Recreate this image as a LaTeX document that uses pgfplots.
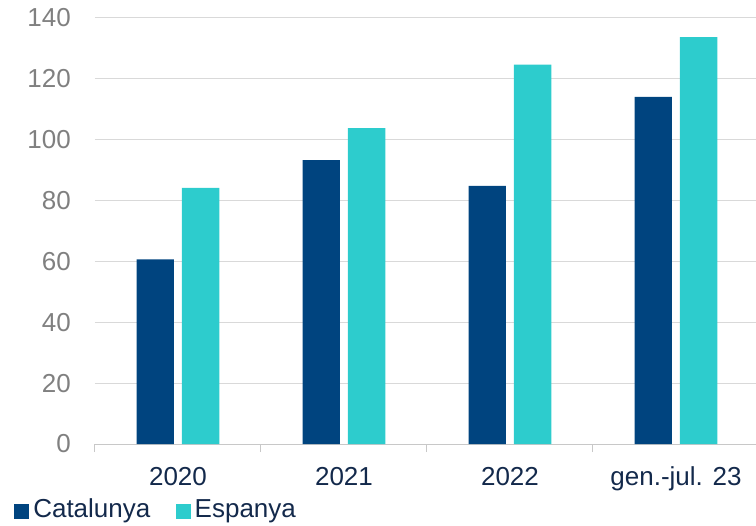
\documentclass[border=0pt]{standalone}
\usepackage{pgfplots}
\pgfplotsset{compat=1.18}
\usepackage{fontspec}
\setmainfont{Liberation Sans}
\definecolor{cat}{HTML}{00447F}
\definecolor{esp}{HTML}{2DCCCD}
\definecolor{navy}{HTML}{13294B}
\definecolor{ygray}{HTML}{808080}
\definecolor{gridc}{HTML}{D9D9D9}
\definecolor{axc}{HTML}{C8C8C8}
\newcommand{\ff}{\fontsize{19.5}{23}\selectfont}
\begin{document}
\begin{tikzpicture}
\useasboundingbox (-71.25pt,-60.75pt) rectangle (495.75pt,333pt);
\begin{axis}[
  at={(0pt,0pt)}, anchor=south west,
  scale only axis, width=495.75pt, height=319.5pt,
  xmin=-0.5, xmax=3.482, ymin=0, ymax=140,
  ybar=6pt, bar width=28.1pt,
  /pgf/number format/assume math mode=true,
  axis x line*=bottom, axis y line*=left,
  y axis line style={draw=none},
  x axis line style={draw=axc, line width=0.75pt},
  ymajorgrids, grid style={draw=gridc, line width=0.75pt},
  ytick={0,20,...,140},
  xtick={0,1,2,3}, xticklabels={2020,2021,2022,{gen.-jul. 23}},
  minor xtick={-0.5,0.5,1.5,2.5},
  major tick length=0pt, minor tick length=6pt, tick align=outside,
  minor tick style={draw=axc, line width=0.75pt},
  xticklabel style={font=\ff, text=navy, anchor=north, inner sep=0pt, text height=14pt, text depth=4pt, yshift=-17pt},
  yticklabel style={font=\ff, text=ygray, anchor=east, inner sep=0pt, xshift=-18pt},
  legend style={at={(-0.1225,-0.153)}, anchor=west, draw=none, fill=none, inner sep=0pt,
    font=\ff, text=navy, nodes={inner sep=0pt},
    /tikz/every odd column/.append style={column sep=3pt},
    /tikz/every even column/.append style={column sep=19pt}},
  legend columns=2, legend cell align=left,
  legend image code/.code={\fill[#1] (0pt,-7.3pt) rectangle (11.25pt,3.9pt);},
]
\addplot[fill=cat, draw=none] coordinates {(0,60.7) (1,93.3) (2,84.8) (3,114.1)};
\addplot[fill=esp, draw=none] coordinates {(0,84.2) (1,103.8) (2,124.7) (3,133.7)};
\legend{Catalunya, Espanya}
\end{axis}
\end{tikzpicture}
\end{document}
